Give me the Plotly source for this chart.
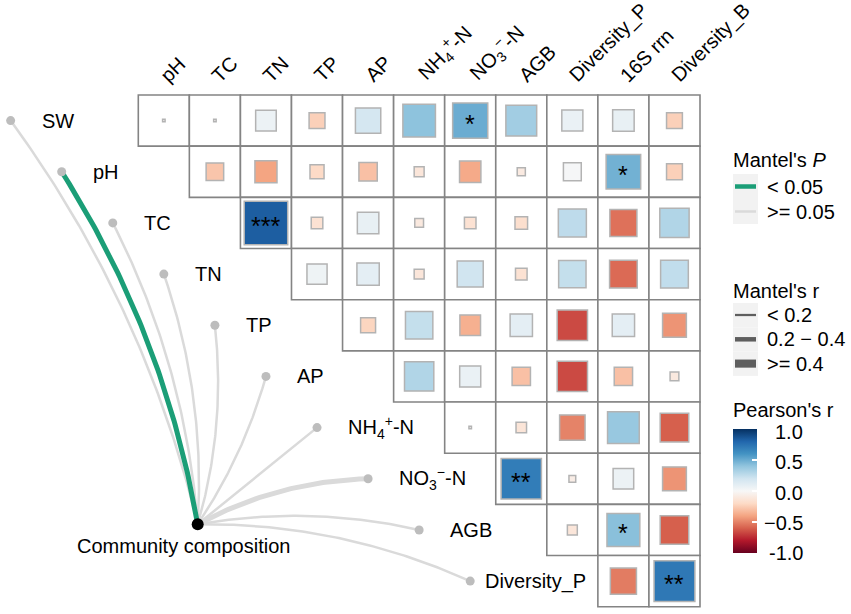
import numpy as np
import plotly.graph_objects as go

W, H = 851, 614
FONT = "Liberation Sans, Arial, sans-serif"

# ---------------- data ----------------
row_vars = ["SW", "pH", "TC", "TN", "TP", "AP", "NH4+-N", "NO3--N", "AGB", "Diversity_P"]
col_vars = ["pH", "TC", "TN", "TP", "AP", "NH4+-N", "NO3--N", "AGB", "Diversity_P", "16S rrn", "Diversity_B"]

# Pearson's r, row i holds the cells for columns i..10
pearson_r = [
    [-0.02, -0.02, 0.06, -0.24, 0.18, 0.41, 0.50, 0.35, 0.07, 0.08, -0.24],
    [-0.28, -0.40, -0.20, -0.30, -0.12, -0.38, -0.09, 0.01, 0.48, -0.24],
    [0.83, -0.15, 0.08, -0.10, -0.15, -0.17, 0.26, -0.55, 0.30],
    [0.05, 0.10, -0.12, 0.20, -0.15, 0.24, -0.57, 0.25],
    [-0.22, 0.24, -0.36, 0.10, -0.66, 0.10, -0.45],
    [0.30, 0.07, -0.30, -0.66, -0.30, -0.10],
    [-0.02, -0.13, -0.50, 0.38, -0.60],
    [0.70, -0.07, 0.06, -0.45],
    [-0.12, 0.42, -0.60],
    [-0.52, 0.72],
]
pearson_sig = [
    ["", "", "", "", "", "", "*", "", "", "", ""],
    ["", "", "", "", "", "", "", "", "*", ""],
    ["***", "", "", "", "", "", "", "", ""],
    ["", "", "", "", "", "", "", ""],
    ["", "", "", "", "", "", ""],
    ["", "", "", "", "", ""],
    ["", "", "", "", ""],
    ["**", "", "", ""],
    ["", "*", ""],
    ["", "**"],
]

# Mantel test: community composition vs each variable
mantel_r = [0.08, 0.31, 0.12, 0.10, 0.09, 0.11, 0.13, 0.24, 0.15, 0.10]
mantel_p = [0.42, 0.02, 0.21, 0.35, 0.47, 0.30, 0.25, 0.08, 0.18, 0.39]

cb_tickvals = [1.0, 0.5, 0.0, -0.5, -1.0]
cb_ticktext = ["1.0", "0.5", "0.0", "\u22120.5", "-1.0"]

mantel_p_labels = ["< 0.05", ">= 0.05"]
mantel_r_labels = ["< 0.2", "0.2 \u2212 0.4", ">= 0.4"]

# ---------------- layout geometry / styles ----------------
label_html = {"NH4+-N": "NH<sub>4</sub><sup>+</sup>-N",
              "NO3--N": "NO<sub>3</sub><sup>\u2212</sup>-N"}
GX0, GX1, GY0, GY1 = 138.3, 700.0, 95.0, 606.7
ncol, nrow = len(col_vars), len(row_vars)
sx = (GX1 - GX0) / ncol
sy = (GY1 - GY0) / nrow
xrange_ = [-0.5 - GX0 / sx, -0.5 + (W - GX0) / sx]
yrange_ = [-0.5 + (H - GY0) / sy, -0.5 - GY0 / sy]

def to_px(x, y):
    return GX0 + (x + 0.5) * sx, GY0 + (y + 0.5) * sy

def to_data(px, py):
    return (px - GX0) / sx - 0.5, (py - GY0) / sy - 0.5

rdbu = ['#67001F', '#B2182B', '#D6604D', '#F4A582', '#FDDBC7', '#F7F7F7',
        '#D1E5F0', '#92C5DE', '#4393C3', '#2166AC', '#053061']
colorscale = [[i / 10, c] for i, c in enumerate(rdbu)]

def side_fraction(r):
    # square size scale (fraction of the cell side), fitted to the reference
    if r >= 0:
        return 0.36 + 0.6 * r ** 0.75
    return 0.8 * abs(r) ** 0.6

GRID_COL = "#848484"
LINK_GREEN = "#1B9E77"
LINK_GREY = "#DADADA"
def link_width(r):
    return 2.5 if r < 0.2 else (5.0 if r < 0.4 else 9.0)

fig = go.Figure()
shapes = []
annotations = []

# ---------------- correlation grid ----------------
xs, ys, vals, stars = [], [], [], []
for i, row in enumerate(pearson_r):
    for j, v in enumerate(row):
        c = i + j
        shapes.append(dict(type="rect", xref="x", yref="y", x0=c - 0.5, x1=c + 0.5,
                           y0=i - 0.5, y1=i + 0.5, line=dict(color=GRID_COL, width=1.6),
                           fillcolor="white", layer="below"))
        xs.append(c); ys.append(i); vals.append(v)
        stars.append(pearson_sig[i][j])

cell_px = min(sx, sy)
sizes = [max(side_fraction(v) * cell_px - 1.5, 2.5) for v in vals]

fig.add_trace(go.Scatter(
    x=xs, y=ys, mode="markers", hoverinfo="skip", showlegend=False,
    marker=dict(symbol="square", size=sizes, color=vals, colorscale=colorscale,
                cmin=-1, cmax=1, opacity=1, line=dict(color="#B3B3B3", width=1.5),
                colorbar=dict(x=733 / W, xanchor="left", y=1 - 429 / H, yanchor="top",
                              len=124, lenmode="pixels", thickness=24, thicknessmode="pixels",
                              outlinewidth=0, tickvals=cb_tickvals, ticks="inside", ticklen=5,
                              tickcolor="white", tickwidth=1.5, showticklabels=False,
                              xpad=0, ypad=0))))

for x, y, s in zip(xs, ys, stars):
    if s:
        annotations.append(dict(x=x, y=y, xref="x", yref="y", text=s, showarrow=False,
                                font=dict(family=FONT, size=25, color="black"),
                                xanchor="center", yanchor="middle", yshift=-3))

# column labels
_, ylab = to_data(0, 89)
for c, name in enumerate(col_vars):
    annotations.append(dict(x=c - 0.2, y=ylab, xref="x", yref="y",
                            text=label_html.get(name, name), showarrow=False, textangle=-45,
                            xanchor="left", yanchor="bottom",
                            font=dict(family=FONT, size=20, color="black")))

# ---------------- Mantel links ----------------
node_x, node_y = to_data(197.7, 524.3)
curv = [0.10, 0.10, 0.10, 0.10, 0.10, 0.08, 0.0, -0.12, -0.10, -0.11]
dot_x = [i - 3 for i in range(nrow)]
dot_y = list(range(nrow))

order = sorted(range(nrow), key=lambda i: (mantel_p[i] < 0.05, link_width(mantel_r[i])))
t = np.linspace(0, 1, 80)
for i in order:
    p0 = np.array(to_px(node_x, node_y))
    p2 = np.array(to_px(dot_x[i], dot_y[i]))
    d = p2 - p0
    L = np.hypot(*d)
    perp = np.array([-d[1], d[0]]) / L
    p1 = (p0 + p2) / 2 + curv[i] * L * perp
    pts = ((1 - t)[:, None] ** 2) * p0 + (2 * (1 - t) * t)[:, None] * p1 + (t[:, None] ** 2) * p2
    dx, dy = to_data(pts[:, 0], pts[:, 1])
    fig.add_trace(go.Scatter(
        x=dx, y=dy, mode="lines", hoverinfo="skip", showlegend=False,
        line=dict(color=LINK_GREEN if mantel_p[i] < 0.05 else LINK_GREY,
                  width=link_width(mantel_r[i]))))

fig.add_trace(go.Scatter(x=dot_x, y=dot_y, mode="markers", hoverinfo="skip", showlegend=False,
                         marker=dict(size=9, color="#BDBDBD", opacity=1)))
fig.add_trace(go.Scatter(x=[node_x], y=[node_y], mode="markers", hoverinfo="skip",
                         showlegend=False, marker=dict(size=12, color="black", opacity=1)))

for i, name in enumerate(row_vars):
    annotations.append(dict(x=dot_x[i], y=dot_y[i], xref="x", yref="y",
                            text=label_html.get(name, name), showarrow=False,
                            xanchor="left", yanchor="middle",
                            xshift=13 if name == "Diversity_P" else 29,
                            font=dict(family=FONT, size=20, color="black")))
annotations.append(dict(x=node_x, y=node_y, xref="x", yref="y", text="Community composition",
                        showarrow=False, xanchor="center", yanchor="middle", xshift=-14,
                        yshift=-22, font=dict(family=FONT, size=20, color="black")))

# ---------------- legends ----------------
def pap(px, py):
    return px / W, 1 - py / H

def legend_text(px, py, text, size=20):
    x, y = pap(px, py)
    annotations.append(dict(x=x, y=y, xref="paper", yref="paper", text=text, showarrow=False,
                            xanchor="left", yanchor="middle",
                            font=dict(family=FONT, size=size, color="black")))

legend_text(731, 160, "Mantel's <i>P</i>")
for k, (lab, col) in enumerate(zip(mantel_p_labels, [LINK_GREEN, LINK_GREY])):
    y0 = 174 + 25 * k
    x0, yy0 = pap(733, y0)
    x1, yy1 = pap(758, y0 + 25)
    shapes.append(dict(type="rect", xref="paper", yref="paper", x0=x0, x1=x1, y0=yy1, y1=yy0,
                       fillcolor="#F2F2F2", line=dict(width=0), layer="below"))
    lx0, ly = pap(735, y0 + 12.5)
    lx1, _ = pap(756, y0 + 12.5)
    shapes.append(dict(type="line", xref="paper", yref="paper", x0=lx0, x1=lx1, y0=ly, y1=ly,
                       line=dict(color=col, width=4.5 if k == 0 else 2.5)))
    legend_text(765, y0 + 12.5, lab)

legend_text(731, 291, "Mantel's r")
for k, (lab, wv) in enumerate(zip(mantel_r_labels, [0.1, 0.3, 0.5])):
    y0 = 303 + 24.3 * k
    x0, yy0 = pap(733, y0)
    x1, yy1 = pap(758, y0 + 24.3)
    shapes.append(dict(type="rect", xref="paper", yref="paper", x0=x0, x1=x1, y0=yy1, y1=yy0,
                       fillcolor="#F2F2F2", line=dict(width=0), layer="below"))
    lx0, ly = pap(735, y0 + 12)
    lx1, _ = pap(756, y0 + 12)
    shapes.append(dict(type="line", xref="paper", yref="paper", x0=lx0, x1=lx1, y0=ly, y1=ly,
                       line=dict(color="#5E5E5E", width=link_width(wv) * 0.9)))
    legend_text(765, y0 + 12, lab)

legend_text(731, 410, "Pearson's r")
for v, lab in zip(cb_tickvals, cb_ticktext):
    py = 430 + (1 - v) / 2 * 121
    x, y = pap(805, py + 2)
    annotations.append(dict(x=x, y=y, xref="paper", yref="paper", text=lab, showarrow=False,
                            xanchor="right", yanchor="middle",
                            font=dict(family=FONT, size=20, color="black")))

fig.update_layout(
    width=W, height=H, margin=dict(l=0, r=0, t=0, b=0),
    paper_bgcolor="white", plot_bgcolor="white",
    xaxis=dict(range=xrange_, visible=False, fixedrange=True),
    yaxis=dict(range=yrange_, visible=False, fixedrange=True),
    shapes=shapes, annotations=annotations, showlegend=False,
)

fig.write_html("out.html", config={"displayModeBar": False},
               post_script="document.body.style.margin='0';document.body.style.overflow='hidden';")
